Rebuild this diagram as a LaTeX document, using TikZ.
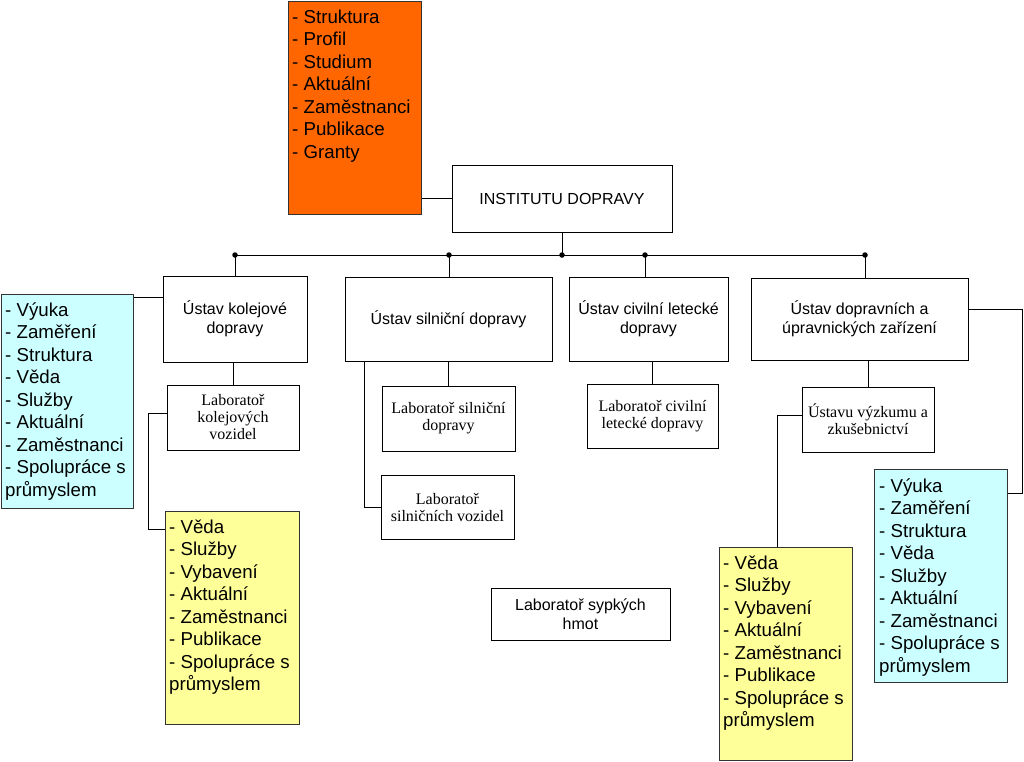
\documentclass[tikz,border=0pt]{standalone}
\usepackage{fontspec}
\setmainfont{Liberation Sans}
\newfontfamily\serifx{Liberation Serif}
\usetikzlibrary{calc}
\definecolor{orangebox}{HTML}{FF6600}
\definecolor{cyanbox}{HTML}{CCFFFF}
\definecolor{yellowbox}{HTML}{FFFF99}
\begin{document}
\begin{tikzpicture}[x=1pt,y=-1pt,
 box/.style={draw=black, line width=0.8pt, inner sep=0pt, align=center, font=\fontsize{16}{19}\selectfont},
 labbox/.style={box, font=\serifx\fontsize{16}{17}\selectfont},
 listbox/.style={draw=black!80, line width=0.8pt, inner sep=0pt, anchor=north west},
 listtext/.style={anchor=north west, inner sep=0pt, align=left, font=\fontsize{18.7}{22.5}\selectfont},
 wire/.style={draw=black, line width=0.8pt},
 dot/.style={circle, fill=black, inner sep=0pt, minimum size=5.5pt}]
\useasboundingbox (0,0) rectangle (1024,761);
\fill[white] (0,0) rectangle (1024,761);

% main boxes
\node[box, minimum width=220pt, minimum height=67pt] (inst) at (562,198.5) {INSTITUTU DOPRAVY};
\node[box, minimum width=144pt, minimum height=86pt] (kol) at (235,319) {Ústav kolejové\\dopravy};
\node[box, minimum width=207pt, minimum height=84pt] (sil) at (448.5,319) {Ústav silniční dopravy};
\node[box, minimum width=159pt, minimum height=84pt] (civ) at (648.5,319) {Ústav civilní letecké\\dopravy};
\node[box, minimum width=217pt, minimum height=82pt] (dop) at (859.5,319) {Ústav dopravních a\\úpravnických zařízení};
\node[labbox, minimum width=132pt, minimum height=65pt] (labk) at (233,417.5) {Laboratoř\\kolejových\\vozidel};
\node[labbox, minimum width=133pt, minimum height=65pt] (labs) at (448.5,418.5) {Laboratoř silniční\\dopravy};
\node[labbox, minimum width=133pt, minimum height=64pt] (labsv) at (447.5,507) {Laboratoř\\silničních vozidel};
\node[labbox, minimum width=131pt, minimum height=64pt] (labc) at (652.5,416) {Laboratoř civilní\\letecké dopravy};
\node[labbox, minimum width=132pt, minimum height=65pt] (vyz) at (868,419.5) {Ústavu výzkumu a\\zkušebnictví};
\node[box, minimum width=179pt, minimum height=52pt] (syp) at (580.5,614) {Laboratoř sypkých\\hmot};

% list boxes
\node[listbox, fill=orangebox, minimum width=133pt, minimum height=213pt] (orange) at (288,1) {};
\node[listtext] (orangetxt) at ($(orange.north west)+(4,8)$) {\rule{0pt}{14pt}- Struktura\\- Profil\\- Studium\\- Aktuální\\- Zaměstnanci\\- Publikace\\- Granty};

\node[listbox, fill=cyanbox, minimum width=132pt, minimum height=214pt] (cyanL) at (1,294) {};
\node[listtext] (cyanLtxt) at ($(cyanL.north west)+(4,8)$) {\rule{0pt}{14pt}- Výuka\\- Zaměření\\- Struktura\\- Věda\\- Služby\\- Aktuální\\- Zaměstnanci\\- Spolupráce s\\průmyslem};

\node[listbox, fill=yellowbox, minimum width=134pt, minimum height=213pt] (yelL) at (165,511) {};
\node[listtext] (yelLtxt) at ($(yelL.north west)+(4,8)$) {\rule{0pt}{14pt}- Věda\\- Služby\\- Vybavení\\- Aktuální\\- Zaměstnanci\\- Publikace\\- Spolupráce s\\průmyslem};

\node[listbox, fill=yellowbox, minimum width=133pt, minimum height=213pt] (yelR) at (719,547) {};
\node[listtext] (yelRtxt) at ($(yelR.north west)+(4,8)$) {\rule{0pt}{14pt}- Věda\\- Služby\\- Vybavení\\- Aktuální\\- Zaměstnanci\\- Publikace\\- Spolupráce s\\průmyslem};

\node[listbox, fill=cyanbox, minimum width=133pt, minimum height=213pt] (cyanR) at (874,469) {};
\node[listtext] (cyanRtxt) at ($(cyanR.north west)+(5,9)$) {\rule{0pt}{14pt}- Výuka\\- Zaměření\\- Struktura\\- Věda\\- Služby\\- Aktuální\\- Zaměstnanci\\- Spolupráce s\\průmyslem};

% bus
\coordinate (bus) at (0,255);
\coordinate (b1) at (235,255);
\coordinate (b2) at (449,255);
\coordinate (b3) at (645,255);
\coordinate (b4) at (865,255);
\draw[wire] (b1) -- (b4);
\draw[wire] (inst.south) -- (inst.south |- bus);
\draw[wire] (b1) -- (b1 |- kol.north);
\draw[wire] (b2) -- (b2 |- sil.north);
\draw[wire] (b3) -- (b3 |- civ.north);
\draw[wire] (b4) -- (b4 |- dop.north);
\node[dot] (d1) at (b1) {};
\node[dot] (d2) at (b2) {};
\node[dot] (d3) at (inst.south |- bus) {};
\node[dot] (d4) at (b3) {};
\node[dot] (d5) at (b4) {};

% other connectors
\draw[wire] (inst.west) -- (inst.west -| orange.east);
\coordinate (cl) at ($(kol.north west)+(0,22)$);
\draw[wire] (cl) -- (cl -| cyanL.east);
\draw[wire] (kol.south -| labk.north) -- (labk.north);
\coordinate (jl) at ($(labk.west)+(-18,-4)$);
\coordinate (yl) at ($(yelL.north west)+(0,18)$);
\draw[wire] ($(labk.west)+(0,-4)$) -- (jl) |- (yl);
\draw[wire] (sil.south -| labs.north) -- (labs.north);
\coordinate (js) at ($(sil.south west)+(20,0)$);
\draw[wire] (js) |- (labsv.west);
\draw[wire] (civ.south -| labc.north) -- (labc.north);
\draw[wire] (dop.south -| vyz.north) -- (vyz.north);
\coordinate (vr) at ($(vyz.west)+(0,-4)$);
\coordinate (yr) at ($(yelR.north west)+(58,0)$);
\draw[wire] (vr) -| (yr);
\coordinate (dr) at ($(dop.north east)+(0,32)$);
\coordinate (dr2) at ($(dr)+(54,0)$);
\coordinate (cr) at ($(cyanR.north east)+(0,24)$);
\draw[wire] (dr) -- (dr2) |- (cr);
\end{tikzpicture}
\end{document}
